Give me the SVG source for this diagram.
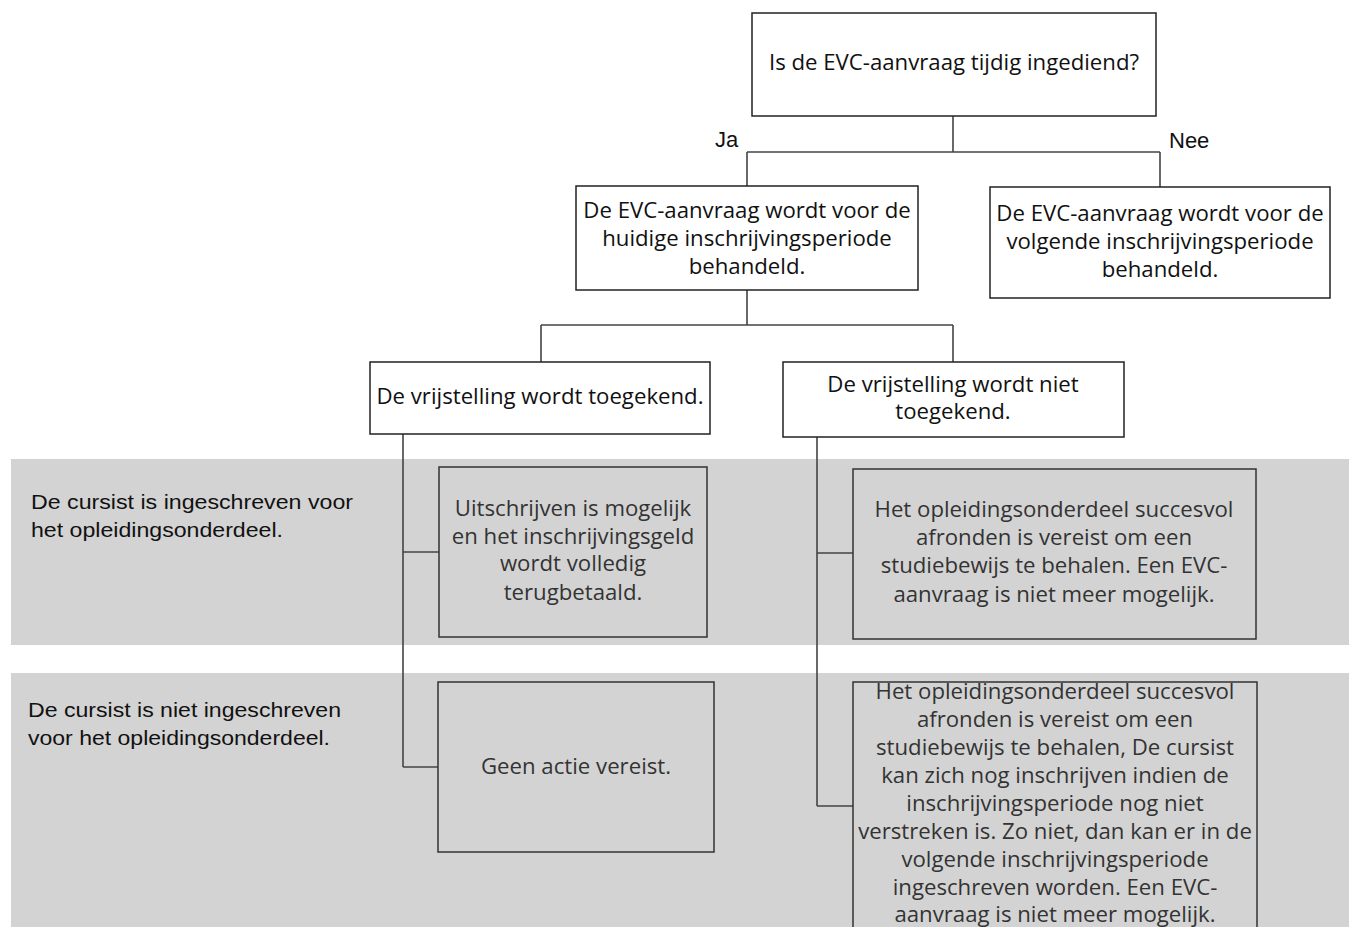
<svg xmlns="http://www.w3.org/2000/svg" width="1349" height="927" viewBox="0 0 1349 927">
<style>
.box{fill:#fff;stroke:#222;stroke-width:1.5}
.gbox{fill:#d3d3d3;stroke:#333;stroke-width:1.5}
.band{fill:#d3d3d3}
.t{font-family:"Open Sans","Noto Sans",sans-serif;font-size:22.2px;text-anchor:middle;fill:#111}
.tg{font-family:"Open Sans","Noto Sans",sans-serif;font-size:22.2px;text-anchor:middle;fill:#333}
.lab{font-family:"Liberation Sans",Arial,sans-serif;font-size:20px;fill:#111}
.yn{font-family:"Liberation Sans",Arial,sans-serif;font-size:22px;fill:#111}
.con{fill:none;stroke:#444;stroke-width:1.6}
</style>
<rect width="1349" height="927" fill="#fff"/>
<g id="bands">
<rect class="band" x="11" y="459" width="1338" height="186"/>
<rect class="band" x="11" y="673" width="1338" height="254"/>
</g>
<g id="rowlabels">
<text class="lab" x="31" y="509" textLength="322" lengthAdjust="spacingAndGlyphs">De cursist is ingeschreven voor</text>
<text class="lab" x="31" y="537" textLength="252" lengthAdjust="spacingAndGlyphs">het opleidingsonderdeel.</text>
<text class="lab" x="28" y="717" textLength="313" lengthAdjust="spacingAndGlyphs">De cursist is niet ingeschreven</text>
<text class="lab" x="28" y="745" textLength="302" lengthAdjust="spacingAndGlyphs">voor het opleidingsonderdeel.</text>
</g>
<g id="connectors">
<path class="con" d="M953,116 V152 M747,152 H1160 M747,152 V186 M1160,152 V187"/>
<path class="con" d="M747,290 V325 M541,325 H953 M541,325 V362 M953,325 V362"/>
<path class="con" d="M403,434 V767 M403,552 H439 M403,767 H438"/>
<path class="con" d="M817,437 V806 M817,553 H853 M817,806 H853"/>
<text class="yn" x="715" y="147">Ja</text>
<text class="yn" x="1169" y="148">Nee</text>
</g>
<g id="q1">
<rect class="box" x="752" y="13" width="404" height="103"/>
<text class="t" x="954" y="70">Is de EVC-aanvraag tijdig ingediend?</text>
</g>
<g id="ja">
<rect class="box" x="576" y="186" width="342" height="104"/>
<text class="t" x="747" y="218">De EVC-aanvraag wordt voor de</text>
<text class="t" x="747" y="246">huidige inschrijvingsperiode</text>
<text class="t" x="747" y="274">behandeld.</text>
</g>
<g id="nee">
<rect class="box" x="990" y="187" width="340" height="111"/>
<text class="t" x="1160" y="221">De EVC-aanvraag wordt voor de</text>
<text class="t" x="1160" y="249">volgende inschrijvingsperiode</text>
<text class="t" x="1160" y="277">behandeld.</text>
</g>
<g id="toegekend">
<rect class="box" x="370" y="362" width="340" height="72"/>
<text class="t" x="540" y="404">De vrijstelling wordt toegekend.</text>
</g>
<g id="niet-toegekend">
<rect class="box" x="783" y="362" width="341" height="75"/>
<text class="t" x="953" y="392">De vrijstelling wordt niet</text>
<text class="t" x="953" y="419">toegekend.</text>
</g>
<g id="uitschrijven">
<rect class="gbox" x="439" y="467" width="268" height="170"/>
<text class="tg" x="573" y="516">Uitschrijven is mogelijk</text>
<text class="tg" x="573" y="544">en het inschrijvingsgeld</text>
<text class="tg" x="573" y="571">wordt volledig</text>
<text class="tg" x="573" y="600">terugbetaald.</text>
</g>
<g id="geen-actie">
<rect class="gbox" x="438" y="682" width="276" height="170"/>
<text class="tg" x="576" y="774">Geen actie vereist.</text>
</g>
<g id="afronden1">
<rect class="gbox" x="853" y="469" width="403" height="170"/>
<text class="tg" x="1054" y="517">Het opleidingsonderdeel succesvol</text>
<text class="tg" x="1054" y="545">afronden is vereist om een</text>
<text class="tg" x="1054" y="573">studiebewijs te behalen. Een EVC-</text>
<text class="tg" x="1054" y="602">aanvraag is niet meer mogelijk.</text>
</g>
<g id="afronden2">
<rect class="gbox" x="853" y="682" width="404" height="260"/>
<text class="tg" x="1055" y="699">Het opleidingsonderdeel succesvol</text>
<text class="tg" x="1055" y="727">afronden is vereist om een</text>
<text class="tg" x="1055" y="755">studiebewijs te behalen, De cursist</text>
<text class="tg" x="1055" y="783">kan zich nog inschrijven indien de</text>
<text class="tg" x="1055" y="811">inschrijvingsperiode nog niet</text>
<text class="tg" x="1055" y="839">verstreken is. Zo niet, dan kan er in de</text>
<text class="tg" x="1055" y="867">volgende inschrijvingsperiode</text>
<text class="tg" x="1055" y="895">ingeschreven worden. Een EVC-</text>
<text class="tg" x="1055" y="922">aanvraag is niet meer mogelijk.</text>
</g>
</svg>
